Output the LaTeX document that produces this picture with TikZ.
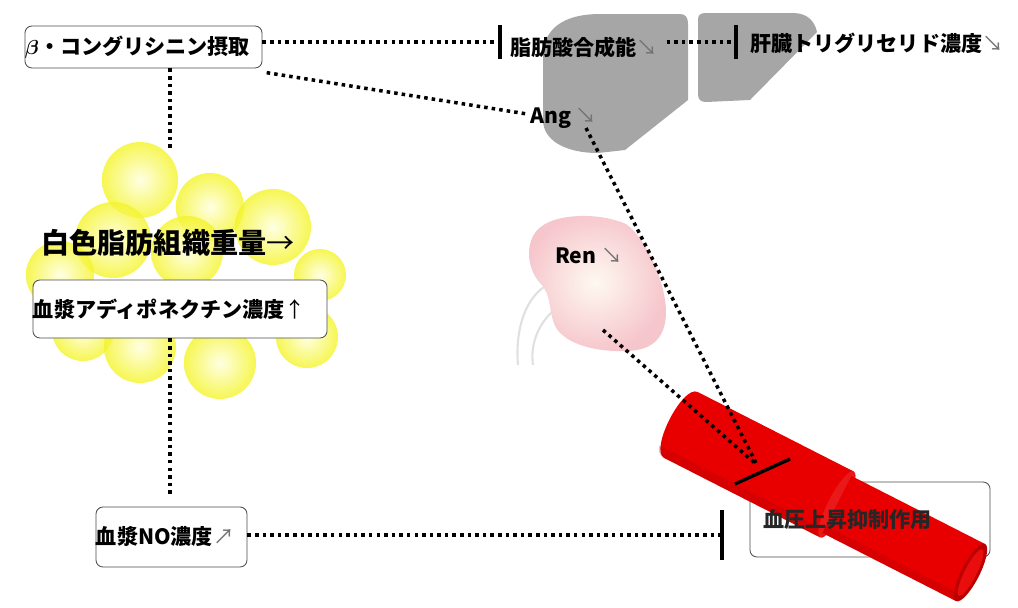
\documentclass[tikz,border=0pt]{standalone}
\usepackage{fontspec}
\setmainfont{Noto Sans CJK JP}
\usepackage{bm}
\usepackage{tikz}
\definecolor{liver}{RGB}{166,166,166}
\definecolor{vessel}{RGB}{232,0,0}
\definecolor{fatrim}{RGB}{244,244,40}
\definecolor{fatcore}{RGB}{255,255,220}
\definecolor{kidneyrim}{RGB}{246,198,205}
\definecolor{kidneycore}{RGB}{254,249,240}

\begin{document}
\begin{tikzpicture}[x=0.025cm, y=-0.025cm,
    box/.style={draw=black!70, line width=0.6pt, rounded corners=5pt, fill=white,
      inner xsep=0.325cm, inner ysep=0pt, align=left},
    lbl/.style={inner sep=0pt, font=\bfseries\fontsize{15}{17}\selectfont},
    fat/.style={inner color=fatcore, outer color=fatrim, opacity=0.8},
    inhib/.style={line width=2.5pt, dash pattern=on 2.5pt off 2.9pt},
    tee/.style={line width=2.4pt}]
        \useasboundingbox (0,0) rectangle (1018,607);

        % Draw the fat cells
        \foreach \cx/\cy/\r in {140/180/38, 210/207/34, 273/227/38, 113/240/38,
            60/275/34, 187/252/36, 320/275/26, 83/330/31, 140/347/36,
            220/363/36, 307/337/31}
            \shade[fat] (\cx,\cy) circle (\r);

        % Draw the liver lobes
        \fill[liver] (543,52) .. controls (546,24) and (570,14) .. (600,14) -- (680,14)
            .. controls (686,14) and (688,18) .. (688,24) -- (688,100) -- (625,150) -- (598,153)
            .. controls (565,153) and (543,140) .. (543,120) -- cycle;
        \fill[liver] (698,20) .. controls (698,15) and (700,13) .. (706,13) -- (793,13)
            .. controls (808,13) and (815,22) .. (817,32) -- (750,100) -- (706,102)
            .. controls (700,102) and (698,99) .. (698,94) -- cycle;

        % Draw the kidney with its ureters
        \draw[black!12, line width=1.5pt] (544,287) .. controls (525,300) and (515,330) .. (518,365);
        \draw[black!12, line width=1.5pt] (552,312) .. controls (538,325) and (530,345) .. (533,365);
        \shade[inner color=kidneycore, outer color=kidneyrim] (540,283)
            .. controls (526,268) and (524,238) .. (542,226)
            .. controls (558,214) and (598,212) .. (626,224)
            .. controls (648,240) and (666,285) .. (666,312)
            .. controls (666,340) and (650,351) .. (625,351)
            .. controls (598,352) and (565,345) .. (555,326)
            .. controls (548,310) and (552,295) .. (540,283) -- cycle;

        % Box under the blood vessel
        \node[box, minimum width=6cm, minimum height=1.875cm] (bpbox) at (870,519.5) {};

        % Draw the blood vessel
        \begin{scope}[shift={(681,425)}, rotate=-27]
            \fill[vessel] (0,-37) -- (175,-37) -- (175,37) -- (0,37)
                .. controls (-17,37) and (-17,-37) .. (0,-37) -- cycle;
            \fill[vessel!70!black, opacity=0.25] (0,28) -- (175,28) -- (175,37) -- (0,37)
                .. controls (-6,37) and (-9,33) .. (-10,28) -- cycle;
            \fill[vessel!90!white] (175,0) ellipse (9 and 37);
            \fill[vessel] (175,-32) rectangle (325,32);
            \fill[vessel!70!black, opacity=0.25] (175,24) rectangle (325,32);
            \fill[vessel!80!black] (325,0) ellipse (9 and 32);
            \fill[vessel!95!white] (325,0) ellipse (6 and 26);
        \end{scope}

        % Labels
        \node[box, lbl, text width=5.925cm, minimum height=1.05cm] (beta) at (143.5,47)
            {$\bm{\beta}$・コングリシニン摂取};
        \node[lbl, font=\bfseries\fontsize{20}{24}\selectfont] (wat) at (168,243)
            {白色脂肪組織重量{\mdseries →}};
        \node[box, lbl, text width=7.35cm, minimum height=1.45cm] (adipo) at (180,309)
            {血漿アディポネクチン濃度{\mdseries ↑}};
        \node[box, lbl, text width=3.775cm, minimum height=1.5cm] (no) at (171.5,537)
            {血漿NO濃度{\mdseries\color{black!55}↗}};
        \node[lbl, anchor=west] (fa) at (510,47) {脂肪酸合成能{\mdseries\color{black!55}↘}};
        \node[lbl, anchor=west] (tg) at (750,43) {肝臓トリグリセリド濃度{\mdseries\color{black!55}↘}};
        \node[lbl, anchor=west] (ang) at (530,118) {Ang {\mdseries\color{black!55}↘}};
        \node[lbl, anchor=west] (ren) at (555,256) {Ren {\mdseries\color{black!55}↘}};
        \node[lbl, anchor=west, text=black!85] (bp) at (763,520) {血圧上昇抑制作用};

        % Dotted connectors and their bars
        \coordinate (t1) at (500,42);
        \draw[inhib] (beta.east |- t1) -- (t1);
        \draw[tee] ([yshift=0.42cm]t1) -- ([yshift=-0.42cm]t1);
        \coordinate (t2) at (736,42);
        \draw[inhib, shorten <=6pt] (fa.east |- t2) -- (t2);
        \draw[tee] ([yshift=0.42cm]t2) -- ([yshift=-0.42cm]t2);
        \coordinate (t3) at (722,535);
        \draw[inhib] (no.east |- t3) -- (t3);
        \draw[tee] ([yshift=0.62cm]t3) -- ([yshift=-0.62cm]t3);

        \coordinate (v1) at (170,148);
        \draw[inhib] (beta.south -| v1) -- (v1);
        \coordinate (v2) at (170,495);
        \draw[inhib] (adipo.south -| v2) -- (v2);

        \draw[inhib] ([xshift=3pt,yshift=-3pt]beta.south east) -- ([xshift=-3pt,yshift=3pt]ang.west);
        \coordinate (angout) at (586,128);
        \coordinate (renout) at (603,330);
        \coordinate (t4) at (757,465);
        \draw[inhib] (angout) -- (t4);
        \draw[inhib] (renout) -- (t4);
        \draw[tee] (735,484) -- (790,459);
    \end{tikzpicture}
\end{document}
